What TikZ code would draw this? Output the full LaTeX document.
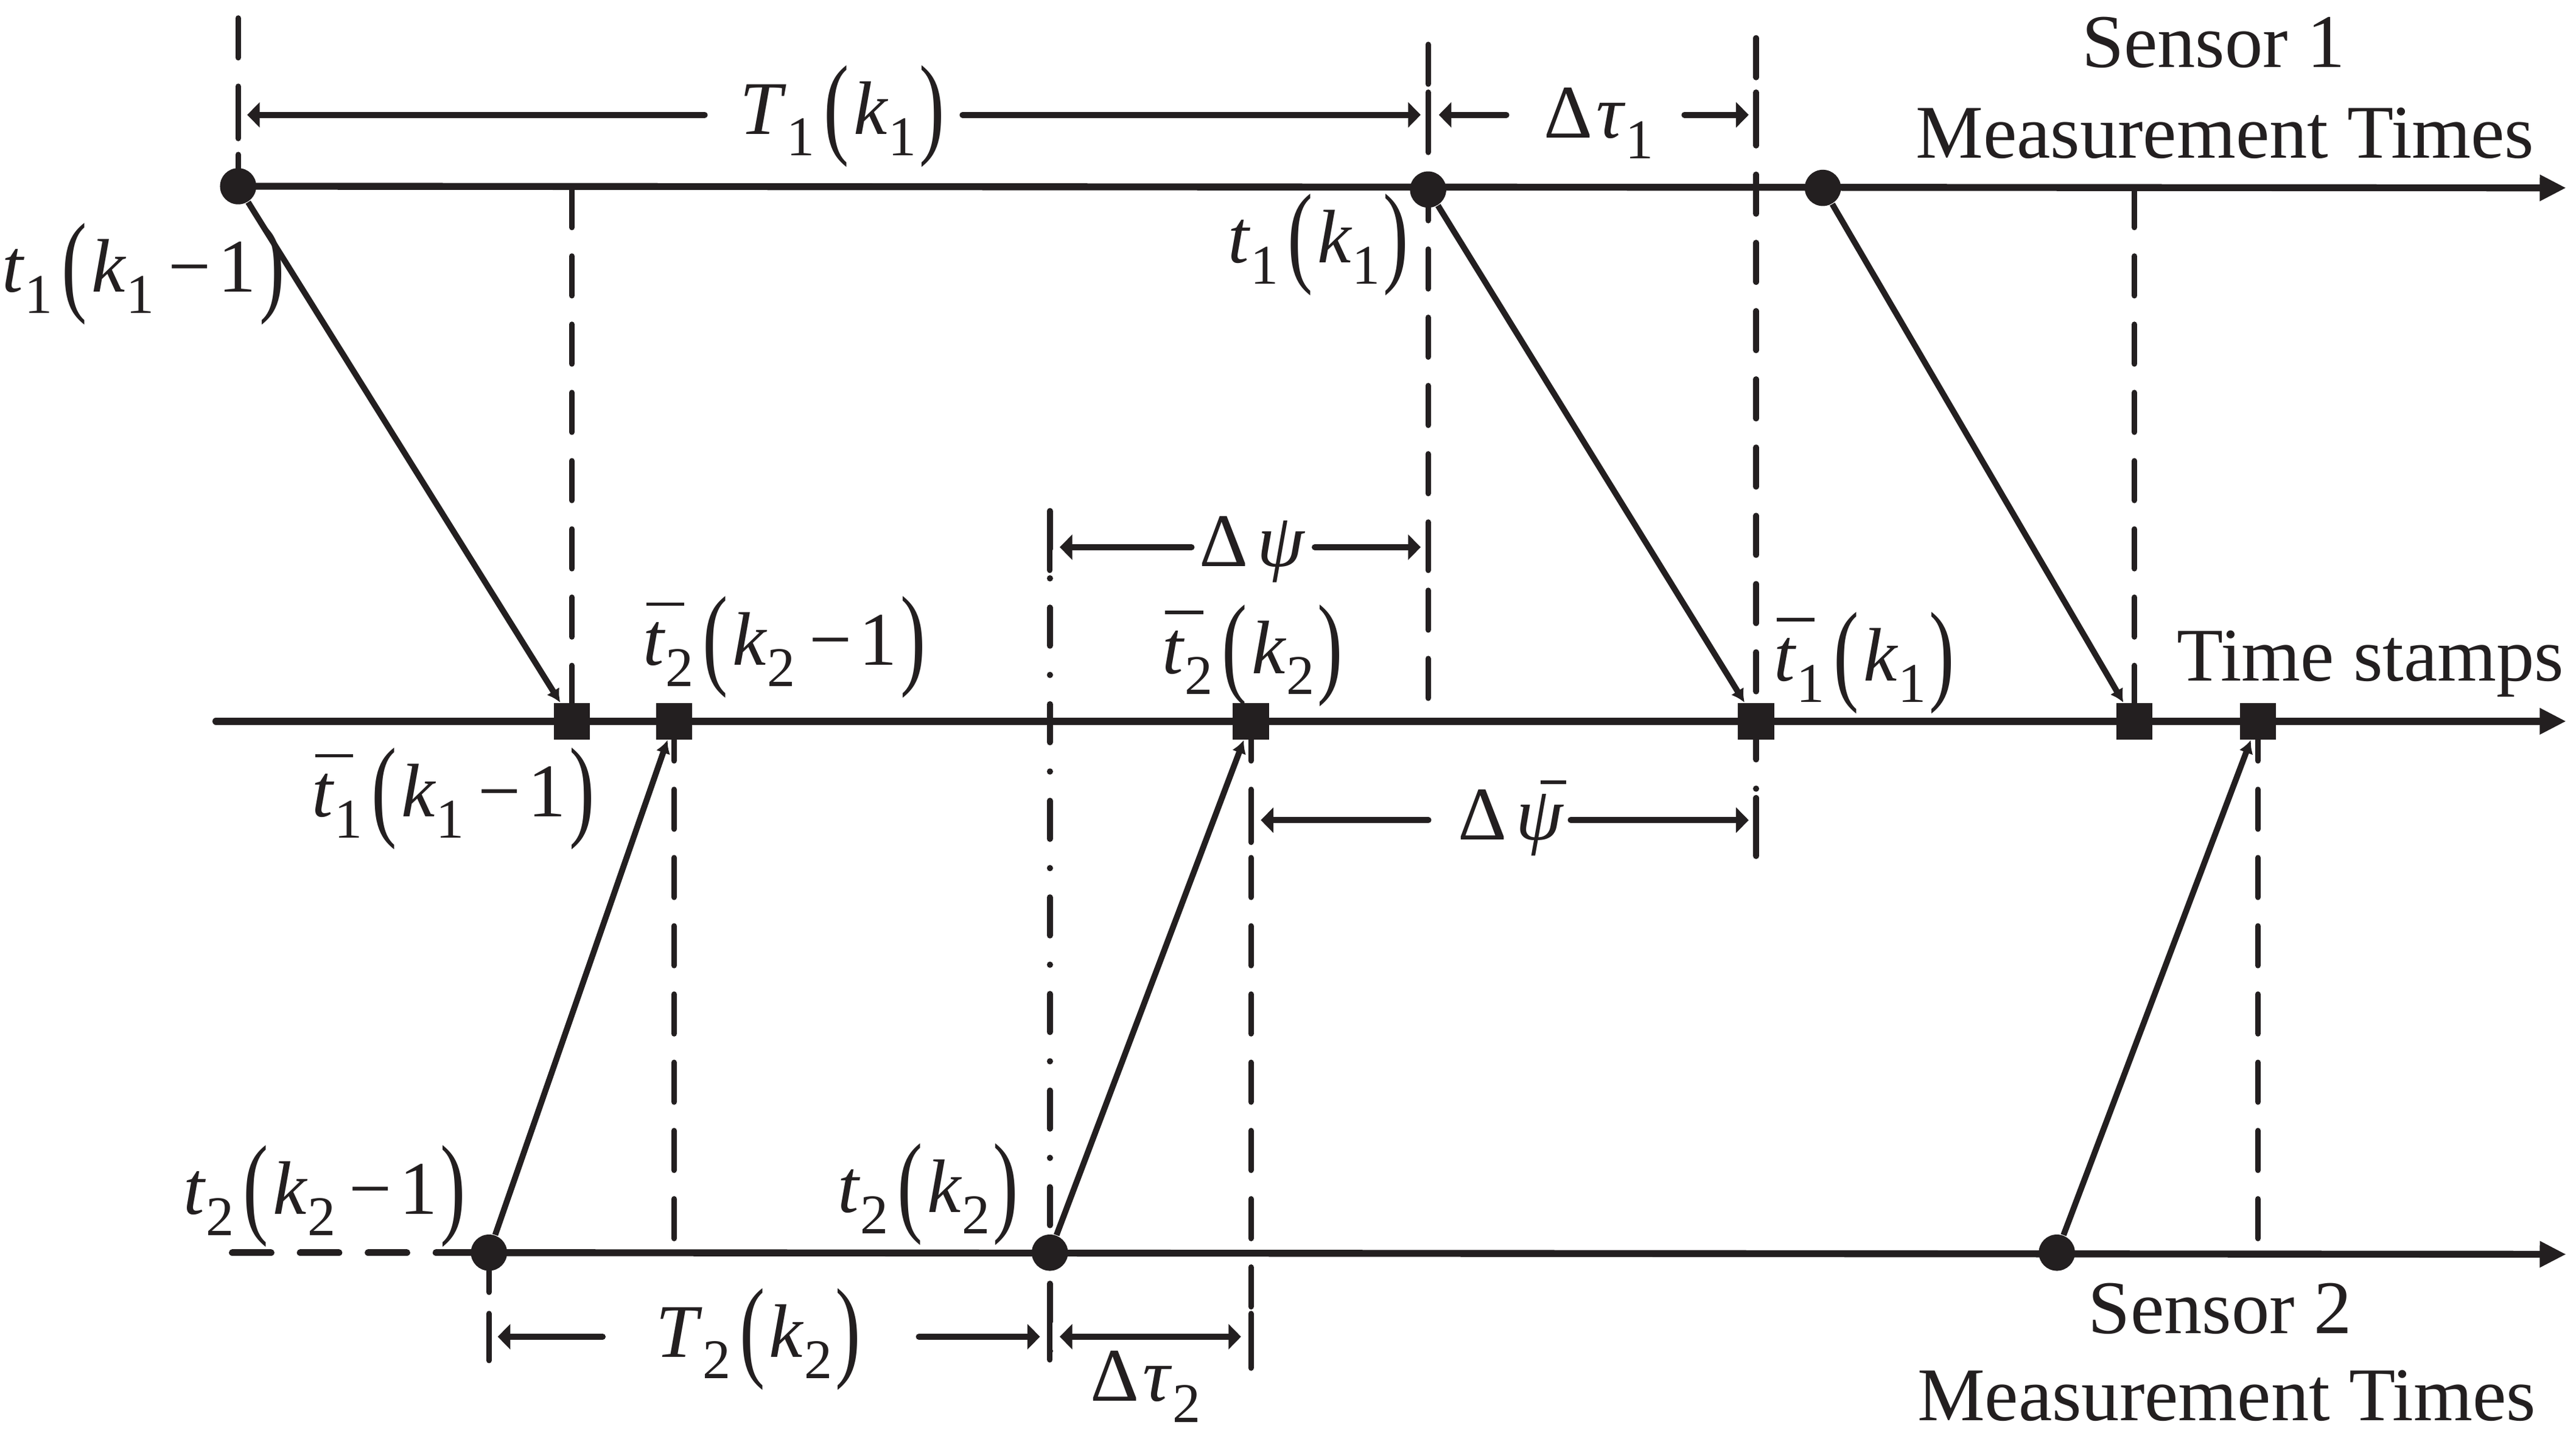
\documentclass[tikz,border=0pt]{standalone}
\usepackage{fontspec}
\setmainfont{Liberation Serif}
\usepackage{graphicx}
\usetikzlibrary{arrows.meta}

\newcommand{\sbs}[1]{\raisebox{-0.28em}{\fontsize{17pt}{17pt}\selectfont #1}}
\newcommand{\lpar}{\hspace{0.12em}\raisebox{-0.12em}{\scalebox{1}[1.48]{(}}\hspace{0.06em}}
\newcommand{\rpar}{\hspace{0.04em}\raisebox{-0.12em}{\scalebox{1}[1.48]{)}}}
\newcommand{\mn}{\hspace{0.18em}−\hspace{0.1em}}
\newcommand{\tbar}{\makebox[0pt][l]{\hspace{0.04em}\raisebox{0.78em}{\rule{0.5em}{0.045em}}}\textit{t}}
\newcommand{\psibar}{\makebox[0pt][l]{\hspace{0.32em}\raisebox{0.74em}{\rule{0.34em}{0.045em}}}\textit{ψ}}

\definecolor{ink}{HTML}{231F20}

\tikzset{
  ax/.style={draw=ink, line width=2.1pt, line cap=round, -{Triangle[length=8pt,width=7.5pt]}},
  axd/.style={draw=ink, line width=2.1pt, line cap=round, dash pattern=on 11.7pt off 8.9pt},
  dimarrow/.style={draw=ink, line width=1.8pt, line cap=round, -{Triangle[length=3.8pt,width=7.5pt]}},
  dimboth/.style={draw=ink, line width=1.8pt, {Triangle[length=3.8pt,width=7.5pt]}-{Triangle[length=3.8pt,width=7.5pt]}},
  dimbar/.style={draw=ink, line width=1.7pt, line cap=round},
  dsh/.style={draw=ink, line width=1.7pt, line cap=round, dash pattern=on 12pt off 8.7pt},
  dd/.style={draw=ink, line width=1.8pt, line cap=round, dash pattern=on 11.6pt off 8.8pt on 0.1pt off 8.8pt},
  diag/.style={draw=ink, line width=1.8pt, -{Latex[length=4pt,width=4.5pt]}},
  meas/.style={circle, fill=ink, inner sep=0pt, minimum size=11pt},
  stamp/.style={rectangle, fill=ink, inner sep=0pt, minimum size=11pt},
  lbl/.style={inner sep=0pt, text=ink, font=\fontsize{23pt}{27pt}\selectfont}
}

\begin{document}
\begin{tikzpicture}[x=0.5pt, y=-0.5pt]
\useasboundingbox (0,0) rectangle (1563,871);

% measurement points and time stamps
\node[meas] (c1a) at (144.5,113) {};
\node[meas] (c1b) at (866.5,115) {};
\node[meas] (c1c) at (1106,114) {};
\node[meas] (c2a) at (296.7,760) {};
\node[meas] (c2b) at (637,760) {};
\node[meas] (c2c) at (1248,760) {};
\node[stamp] (s1a) at (347,437.6) {};
\node[stamp] (s2a) at (409,437.6) {};
\node[stamp] (s2b) at (759,437.6) {};
\node[stamp] (s1b) at (1065.5,437.6) {};
\node[stamp] (s1c) at (1295,437.6) {};
\node[stamp] (s2c) at (1370,437.6) {};

% axes
\coordinate (e1) at (1557,114);
\coordinate (m0) at (131,437.6);
\coordinate (m1) at (1557,437.6);
\coordinate (b0) at (141,760);
\coordinate (e3) at (1557,761);
\draw[ax] (c1a.center) -- (e1);
\draw[ax] (m0) -- (m1);
\draw[ax] (c2a.center) -- (e3);
\draw[axd] (b0) -- (c2a.center);

% guide lines
\coordinate (g1t) at (144.5,11);
\coordinate (g2t) at (347,114);
\coordinate (g3t) at (866.5,27);
\coordinate (g3b) at (866.5,430);
\coordinate (g4t) at (1065.5,23);
\coordinate (g4b) at (1065.5,520);
\coordinate (g5t) at (637,310);
\coordinate (g5b) at (637,830);
\coordinate (g6b) at (409,758);
\coordinate (g7b) at (759,830);
\coordinate (g8t) at (1295,114);
\coordinate (g9b) at (1370,755);
\coordinate (g10b) at (296.7,830);
\draw[dsh] (g1t) -- (c1a.center);
\draw[dsh] (g2t) -- (s1a.center);
\draw[dsh] (g3t) -- (g3b);
\draw[dsh] (g4t) -- (s1b.center);
\draw[dd] (s1b.center) -- (g4b);
\draw[dd] (g5t) -- (g5b);
\draw[dsh] (s2a.center) -- (g6b);
\draw[dsh] (s2b.center) -- (g7b);
\draw[dsh] (g8t) -- (s1c.center);
\draw[dsh] (s2c.center) -- (g9b);
\draw[dsh] (c2a.center) -- (g10b);

% transmissions
\draw[diag] (c1a) -- (s1a);
\draw[diag] (c1b) -- (s1b);
\draw[diag] (c1c) -- (s1c);
\draw[diag] (c2a) -- (s2a);
\draw[diag] (c2b) -- (s2b);
\draw[diag] (c2c) -- (s2c);

% dimension arrows
\coordinate (a1) at (427.6,69.7);  \coordinate (a1t) at (150,69.7);
\coordinate (a2) at (584,69.7);    \coordinate (a2t) at (862,69.7);
\coordinate (a3) at (914,69.7);    \coordinate (a3t) at (873,69.7);
\coordinate (a4) at (1022,69.7);   \coordinate (a4t) at (1061,69.7);
\coordinate (a5) at (723,332);     \coordinate (a5t) at (643,332);
\coordinate (a6) at (797.7,332);   \coordinate (a6t) at (862,332);
\coordinate (a7) at (866.7,497.6); \coordinate (a7t) at (765,497.6);
\coordinate (a8) at (953,497.6);   \coordinate (a8t) at (1061,497.6);
\coordinate (a9) at (365.7,811);   \coordinate (a9t) at (302,811);
\coordinate (a10) at (557.5,811);  \coordinate (a10t) at (631,811);
\coordinate (a11t) at (643,811);   \coordinate (a12t) at (753,811);
\draw[dimarrow] (a1) -- (a1t);
\draw[dimarrow] (a2) -- (a2t);
\draw[dimarrow] (a3) -- (a3t);
\draw[dimarrow] (a4) -- (a4t);
\draw[dimarrow] (a5) -- (a5t);
\draw[dimarrow] (a6) -- (a6t);
\draw[dimarrow] (a7) -- (a7t);
\draw[dimarrow] (a8) -- (a8t);
\draw[dimarrow] (a9) -- (a9t);
\draw[dimarrow] (a10) -- (a10t);
\draw[dimboth] (a11t) -- (a12t);

% end bars of the dimensions
\draw[dimbar] (144.5,56) -- (144.5,84);
\draw[dimbar] (866.5,56) -- (866.5,84);
\draw[dimbar] (1065.5,56) -- (1065.5,84);
\draw[dimbar] (637,318) -- (637,346);
\draw[dimbar] (866.5,318) -- (866.5,346);
\draw[dimbar] (759,484) -- (759,511);
\draw[dimbar] (1065.5,484) -- (1065.5,511);
\draw[dimbar] (296.7,797) -- (296.7,825);
\draw[dimbar] (637,797) -- (637,825);
\draw[dimbar] (759,797) -- (759,825);

% labels
\node[lbl, anchor=base west] (l1) at (1,177) {\textit{t}\sbs{1}\lpar\textit{k}\sbs{1}\mn 1\rpar};
\node[lbl, anchor=base] (l2) at (511,81.5) {\textit{T}\sbs{1}\lpar\textit{k}\sbs{1}\rpar};
\node[lbl, anchor=base] (l3) at (970,83.5) {Δ\hspace{0.05em}\textit{τ}\sbs{1}};
\node[lbl, anchor=base] (l4) at (800,159.5) {\textit{t}\sbs{1}\lpar\textit{k}\sbs{1}\rpar};
\node[lbl, anchor=base] (l5) at (1343,41) {Sensor 1};
\node[lbl, anchor=base] (l6) at (1350,96) {Measurement Times};
\node[lbl, anchor=base] (l7) at (760,343.5) {Δ\hspace{0.12em}\textit{ψ}};
\node[lbl, anchor=base] (l8) at (760,408.5) {\tbar\sbs{2}\lpar\textit{k}\sbs{2}\rpar};
\node[lbl, anchor=base] (l9) at (1131,413) {\tbar\sbs{1}\lpar\textit{k}\sbs{1}\rpar};
\node[lbl, anchor=base east] (l10) at (1556,413) {Time stamps};
\node[lbl, anchor=base] (l11) at (476,403.5) {\tbar\sbs{2}\lpar\textit{k}\sbs{2}\mn 1\rpar};
\node[lbl, anchor=base] (l12) at (275,495.5) {\tbar\sbs{1}\lpar\textit{k}\sbs{1}\mn 1\rpar};
\node[lbl, anchor=base] (l13) at (917,509.6) {Δ\hspace{0.12em}\psibar};
\node[lbl, anchor=base] (l14) at (197,736.5) {\textit{t}\sbs{2}\lpar\textit{k}\sbs{2}\mn 1\rpar};
\node[lbl, anchor=base] (l15) at (563,735.5) {\textit{t}\sbs{2}\lpar\textit{k}\sbs{2}\rpar};
\node[lbl, anchor=base] (l16) at (460,823.5) {\textit{T}\sbs{2}\lpar\textit{k}\sbs{2}\rpar};
\node[lbl, anchor=base] (l17) at (695,850) {Δ\hspace{0.05em}\textit{τ}\sbs{2}};
\node[lbl, anchor=base] (l18) at (1347,809) {Sensor 2};
\node[lbl, anchor=base] (l19) at (1351,862) {Measurement Times};
\end{tikzpicture}
\end{document}
